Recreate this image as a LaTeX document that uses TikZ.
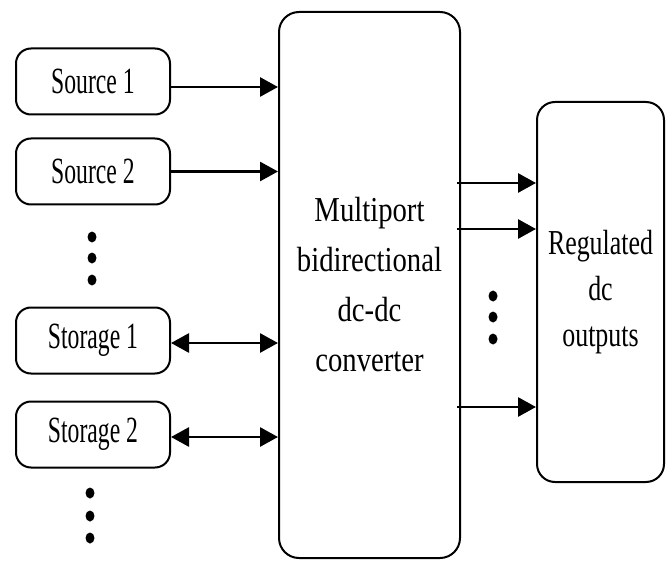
\documentclass[tikz,border=0pt]{standalone}
\usepackage{fontspec}
\usepackage{graphicx}
\setmainfont{Liberation Serif}
\usetikzlibrary{arrows.meta}

% horizontally condensed text
\newcommand{\sqa}[1]{\scalebox{0.64}[1]{#1}}
\newcommand{\sqb}[1]{\scalebox{0.82}[1]{#1}}
\newcommand{\sqc}[1]{\scalebox{0.74}[1]{#1}}

\tikzset{
  port/.style={draw, line width=2pt, rounded corners=15pt, minimum width=154pt,
               minimum height=66pt, inner sep=0pt, font=\fontsize{37}{40}\selectfont},
  bigbox/.style={draw, line width=2pt, rounded corners=20pt, inner sep=0pt,
                 align=center},
  arr/.style={line width=2.8pt, -{Triangle[length=18pt,width=19pt]}},
  biarr/.style={line width=2.8pt, {Triangle[length=18pt,width=19pt]}-{Triangle[length=18pt,width=19pt]}},
  dot/.style={fill=black, draw=none},
}

\begin{document}
\begin{tikzpicture}[x=1pt, y=-1pt]
\useasboundingbox (0,0) rectangle (668,561);

% central converter and output block
\node[bigbox, minimum width=181pt, minimum height=546pt,
      font=\fontsize{35}{50}\selectfont] (conv) at (369.5,285)
  {\sqb{Multiport}\\\sqb{bidirectional}\\\sqb{dc-dc}\\\sqb{converter}};
\node[bigbox, rounded corners=18pt, minimum width=127pt, minimum height=380pt,
      font=\fontsize{35}{46}\selectfont] (reg) at (600.5,292)
  {\sqc{Regulated}\\\sqc{dc}\\\sqc{outputs}};

% sources and storage ports
\node[port] (s1) at (93,81.5)  {\sqa{Source 1}};
\node[port] (s2) at (93,171.5) {\sqa{Source 2}};
\node[port] (st1) at (93,340.5) {\sqa{Storage 1}};
\node[port] (st2) at (93,434.5) {\sqa{Storage 2}};

% input connectors
\draw[arr] ([yshift=-5.5pt]s1.east) -- ([yshift=-5.5pt]s1.east -| conv.west);
\draw[arr] (s2.east) -- (s2.east -| conv.west);
\draw[biarr] ([yshift=-2.5pt]st1.east) -- ([yshift=-2.5pt]st1.east -| conv.west);
\draw[biarr] ([yshift=-2.5pt]st2.east) -- ([yshift=-2.5pt]st2.east -| conv.west);

% output connectors
\coordinate (o1) at (conv.east |- 0,183);
\coordinate (o2) at (conv.east |- 0,229);
\coordinate (o3) at (conv.east |- 0,407);
\draw[arr] ([xshift=-4pt]o1) -- (o1 -| reg.west);
\draw[arr] ([xshift=-4pt]o2) -- (o2 -| reg.west);
\draw[arr] ([xshift=-4pt]o3) -- (o3 -| reg.west);

% ellipsis dots
\foreach \y in {237,258,280} \fill[dot] (92,\y) ellipse (4.5pt and 5.5pt);
\foreach \y in {493,516,538} \fill[dot] (90,\y) ellipse (4.5pt and 5.5pt);
\foreach \y in {296,317,339} \fill[dot] (493,\y) ellipse (4.5pt and 5.5pt);
\end{tikzpicture}
\end{document}
